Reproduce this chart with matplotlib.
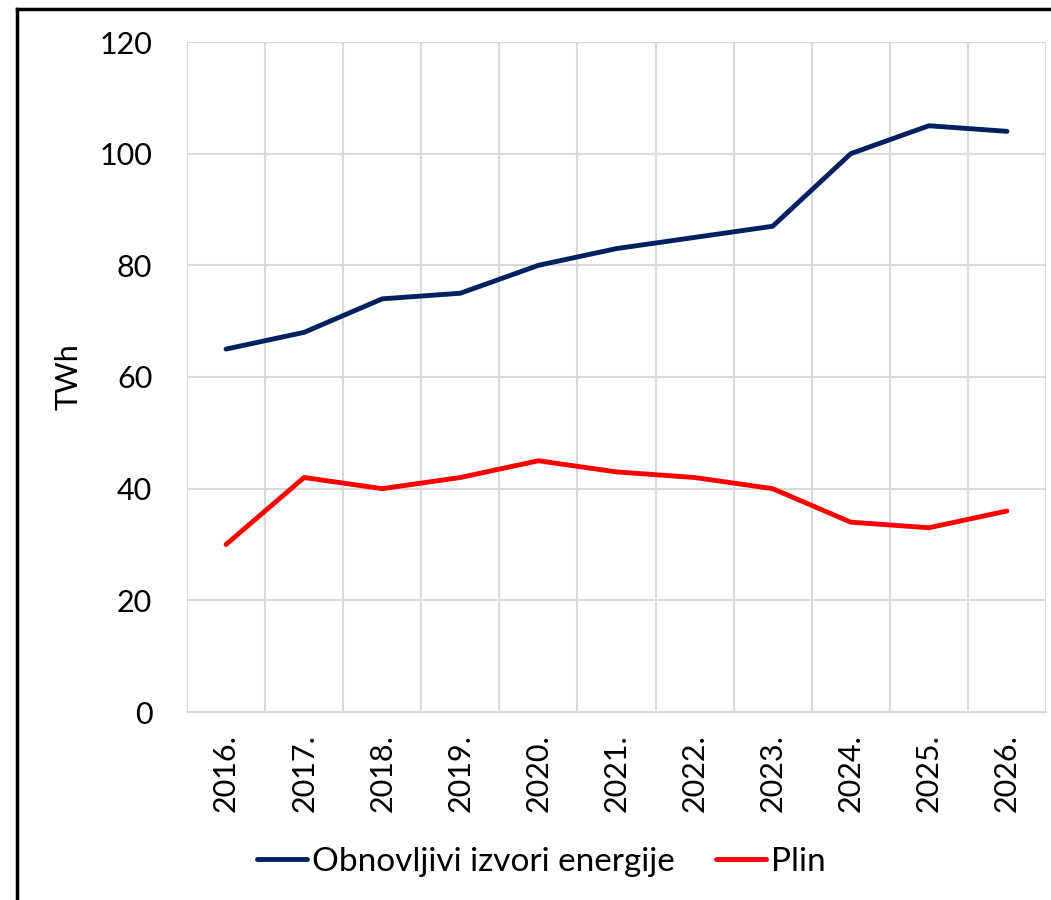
import numpy as np
import matplotlib.pyplot as plt
from matplotlib.lines import Line2D

years = ['2016.', '2017.', '2018.', '2019.', '2020.', '2021.', '2022.', '2023.', '2024.', '2025.', '2026.']
obnovljivi = [65, 68, 74, 75, 80, 83, 85, 87, 100, 105, 104]
plin = [30, 42, 40, 42, 45, 43, 42, 40, 34, 33, 36]

plt.rcParams['font.family'] = ['Lato', 'DejaVu Sans']

fig = plt.figure(figsize=(10.51, 9), dpi=100)
ax = fig.add_axes([187/1051, 1-712/900, (1046-187)/1051, (712-42)/900])

x = np.arange(len(years))
ax.plot(x, obnovljivi, color='#002060', lw=3.5, label='Obnovljivi izvori energije', solid_capstyle='round')
ax.plot(x, plin, color='#FF0000', lw=3.5, label='Plin', solid_capstyle='round')

ax.set_xlim(-0.5, len(years)-0.5)
ax.set_ylim(0, 120)
ax.set_yticks(np.arange(0, 121, 20))
ax.set_xticks(x)
ax.set_xticklabels(years, rotation=90, fontsize=22)
ax.set_xticks(np.arange(-0.5, len(years), 1), minor=True)
ax.tick_params(axis='y', labelsize=22, length=0, pad=25)
ax.tick_params(axis='x', which='both', length=0, pad=16)
ax.grid(True, axis='y', color='#d9d9d9', lw=1.5)
ax.grid(True, axis='x', which='minor', color='#d9d9d9', lw=1.5)
ax.set_axisbelow(True)
for s in ['top', 'right', 'left']:
    ax.spines[s].set_visible(False)
ax.spines['bottom'].set_color('#d9d9d9')
ax.spines['bottom'].set_linewidth(1.5)

ax.set_ylabel('TWh', fontsize=22, labelpad=12)

fig.legend(loc='center', bbox_to_anchor=(0.515, 1-862/900), ncol=2, frameon=False,
           fontsize=24, handlelength=1.5, handletextpad=0.15, columnspacing=1.25)

# outer border (top and left visible)
fig.add_artist(Line2D([17/1051, 17/1051], [0, 1-9/900], color='black', lw=2.5, transform=fig.transFigure))
fig.add_artist(Line2D([17/1051, 1], [1-9/900, 1-9/900], color='black', lw=2.5, transform=fig.transFigure))

fig.savefig('out.png', dpi=100)
